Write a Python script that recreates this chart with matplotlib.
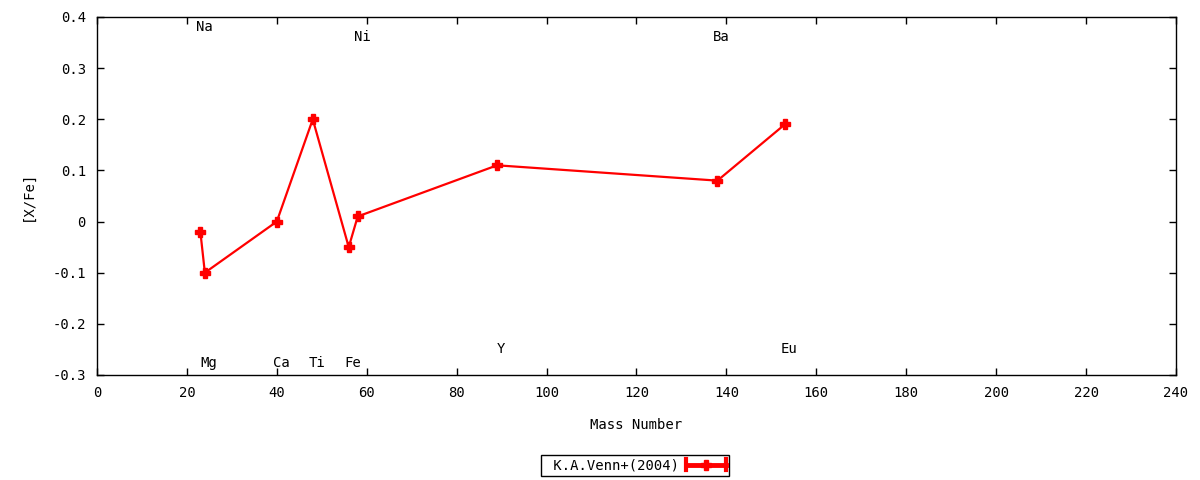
import numpy as np
import matplotlib.pyplot as plt
from matplotlib.legend_handler import HandlerBase
from matplotlib.lines import Line2D
from matplotlib.ticker import FuncFormatter

plt.rcParams['font.family'] = ['DejaVu Sans Mono']
plt.rcParams['axes.unicode_minus'] = False

# K.A.Venn+(2004) abundances
elements = ['Na', 'Mg', 'Ca', 'Ti', 'Fe', 'Ni', 'Y', 'Ba', 'Eu']
mass = [23, 24, 40, 48, 56, 58, 89, 138, 153]
xfe = [-0.02, -0.10, 0.00, 0.20, -0.05, 0.01, 0.11, 0.08, 0.19]

# heights of the element name labels
label_y = [0.38, -0.277, -0.277, -0.277, -0.277, 0.36, -0.25, 0.36, -0.25]

xticks = np.arange(0, 241, 20)
yticks = np.arange(-0.3, 0.41, 0.1)

FS = 10


class CapLineHandler(HandlerBase):
    # gnuplot-like key sample: bar with end caps and a point in the middle
    def create_artists(self, legend, orig, xd, yd, w, h, fontsize, trans):
        y = h / 2 - yd
        x0, x1 = -xd, -xd + w
        c = orig.get_color()
        bar = Line2D([x0, x1], [y, y], color=c, lw=3.5, transform=trans)
        cap0 = Line2D([x0, x0], [y - 4, y + 4], color=c, lw=3, transform=trans)
        cap1 = Line2D([x1, x1], [y - 4, y + 4], color=c, lw=3, transform=trans)
        pt = Line2D([(x0 + x1) / 2], [y], color=c, marker='P', ms=7,
                    ls='none', transform=trans)
        return [bar, cap0, cap1, pt]


fig = plt.figure(figsize=(12, 4.8), dpi=100)
ax = fig.add_axes([0.0808, 0.2188, 0.8992, 0.7458])

line, = ax.plot(mass, xfe, color='red', lw=1.6, marker='P', ms=7,
                label=' K.A.Venn+(2004)')

for el, m, ly in zip(elements, mass, label_y):
    ax.annotate(el, (m, ly), xytext=(3, 0), textcoords='offset points',
                ha='center', va='center', fontsize=FS)

ax.set_xlim(0, 240)
ax.set_ylim(-0.3, 0.4)
ax.set_xticks(xticks)
ax.set_yticks(yticks)
ax.yaxis.set_major_formatter(FuncFormatter(lambda v, p: '%g' % round(v, 2)))
ax.tick_params(direction='in', length=5, width=1, top=True, right=True,
               labelsize=FS, pad=8)
for s in ax.spines.values():
    s.set_linewidth(1)

ax.set_xlabel('Mass Number', fontsize=FS, labelpad=13)
ax.set_ylabel('[X/Fe]', fontsize=FS, labelpad=13)

leg = ax.legend(handles=[line], handler_map={line: CapLineHandler()},
                loc='upper center', bbox_to_anchor=(0.499, -0.2235),
                markerfirst=False, fancybox=False, edgecolor='black',
                framealpha=1, fontsize=FS, handlelength=2.9,
                borderpad=0.25, handletextpad=0.5, borderaxespad=0)
leg.get_frame().set_linewidth(1)

fig.savefig('out.png', dpi=100)
